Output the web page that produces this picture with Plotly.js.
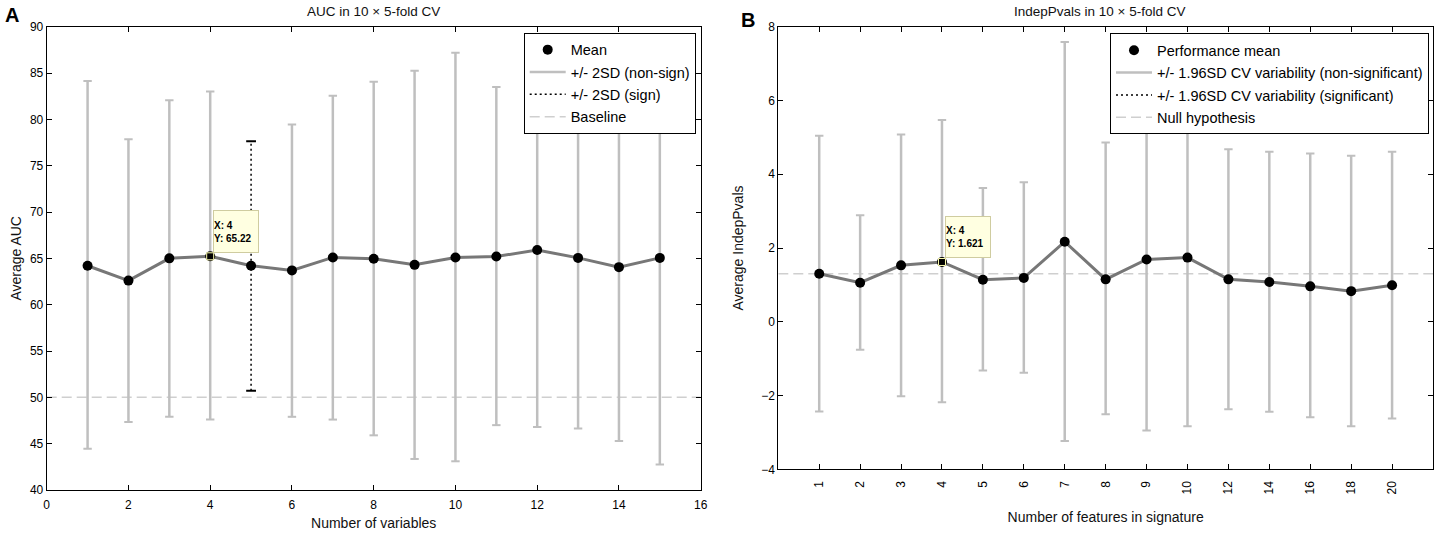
<!DOCTYPE html>
<html>
<head>
<meta charset="utf-8">
<script src="https://cdn.plot.ly/plotly-3.0.1.min.js"></script>
<style>html,body{margin:0;padding:0;background:#fff;}#chart{width:1439px;height:536px;}</style>
</head>
<body>
<div id="chart"></div>
<script>
// ---------- Panel A data: AUC in 10 x 5-fold CV ----------
var aucX      = [1, 2, 3, 4, 5, 6, 7, 8, 9, 10, 11, 12, 13, 14, 15];
var aucMean   = [64.2, 62.6, 65.0, 65.22, 64.2, 63.7, 65.1, 64.95, 64.3, 65.1, 65.2, 65.9, 65.05, 64.05, 65.05];
var aucUpper  = [84.15, 77.85, 82.05, 83.0, 77.65, 79.45, 82.55, 84.05, 85.25, 87.2, 83.5, 85.0, 83.4, 82.75, 87.3];
var aucLower  = [44.45, 47.35, 47.9, 47.6, 50.7, 47.9, 47.6, 45.9, 43.35, 43.1, 47.0, 46.8, 46.65, 45.3, 42.75];
var aucSign   = [false, false, false, false, true, false, false, false, false, false, false, false, false, false, false];
var aucBaseline = 50;
var aucTip = {x: 4, y: 65.22, label: "65.22"};

// ---------- Panel B data: IndepPvals in 10 x 5-fold CV ----------
var pvLabels  = ["1", "2", "3", "4", "5", "6", "7", "8", "9", "10", "12", "14", "16", "18", "20"];
var pvMean    = [1.30, 1.06, 1.53, 1.621, 1.14, 1.19, 2.17, 1.15, 1.69, 1.74, 1.15, 1.08, 0.96, 0.83, 0.99];
var pvUpper   = [5.04, 2.89, 5.08, 5.47, 3.63, 3.78, 7.585, 4.86, 6.33, 6.31, 4.68, 4.61, 4.56, 4.50, 4.61];
var pvLower   = [-2.43, -0.76, -2.02, -2.18, -1.32, -1.38, -3.23, -2.51, -2.95, -2.83, -2.37, -2.44, -2.59, -2.83, -2.62];
var pvSign    = [false, false, false, false, false, false, false, false, false, false, false, false, false, false, false];
var pvNull = 1.301;
var pvTipIndex = 3; // category "4"
var pvTipLabel = "1.621";

// ---------- helpers ----------
var FONT = "Liberation Sans, Arial, Helvetica, sans-serif";
var GRAY_BAR = "#bfbfbf";
var MEAN_LINE = "#777777";
var BASE_COL = "#cfcfcf";

function segments(xs, lo, hi, flags, want) {
  var x = [], y = [];
  for (var i = 0; i < xs.length; i++) {
    if (flags[i] === want) { x.push(xs[i], xs[i], null); y.push(lo[i], hi[i], null); }
  }
  if (x.length === 0) { x.push(null); y.push(null); }
  return {x: x, y: y};
}
function caps(xs, lo, hi, flags, want) {
  var x = [], y = [];
  for (var i = 0; i < xs.length; i++) {
    if (flags[i] === want) { x.push(xs[i], xs[i]); y.push(lo[i], hi[i]); }
  }
  return {x: x, y: y};
}

function panelTraces(xs, mean, lo, hi, flags, baseVal, xr, xa, ya, leg, names) {
  var t = [];
  t.push({type: "scatter", mode: "lines", x: [xr[0], xr[1]], y: [baseVal, baseVal], xaxis: xa, yaxis: ya,
    line: {color: BASE_COL, width: 1.5, dash: "10px,5px"}, name: names[3], legend: leg,
    legendgroup: leg + "d", legendrank: 4, hoverinfo: "skip"});
  var ns = segments(xs, lo, hi, flags, false);
  t.push({type: "scatter", mode: "lines", x: ns.x, y: ns.y, xaxis: xa, yaxis: ya,
    line: {color: GRAY_BAR, width: 2.5}, name: names[1], legend: leg, legendgroup: leg + "b", legendrank: 2,
    connectgaps: false, hoverinfo: "skip"});
  var nc = caps(xs, lo, hi, flags, false);
  t.push({type: "scatter", mode: "markers", x: nc.x, y: nc.y, xaxis: xa, yaxis: ya, showlegend: false,
    marker: {symbol: "line-ew", size: 6, line: {color: GRAY_BAR, width: 2}}, hoverinfo: "skip"});
  var ss = segments(xs, lo, hi, flags, true);
  t.push({type: "scatter", mode: "lines", x: ss.x, y: ss.y, xaxis: xa, yaxis: ya,
    line: {color: "#000", width: 1.5, dash: "2px,3px"}, name: names[2], legend: leg, legendgroup: leg + "c", legendrank: 3,
    connectgaps: false, hoverinfo: "skip"});
  var sc = caps(xs, lo, hi, flags, true);
  t.push({type: "scatter", mode: "markers", x: sc.x, y: sc.y, xaxis: xa, yaxis: ya, showlegend: false,
    marker: {symbol: "line-ew", size: 7, line: {color: "#000", width: 2}}, hoverinfo: "skip"});
  t.push({type: "scatter", mode: "lines", x: xs, y: mean, xaxis: xa, yaxis: ya, showlegend: false,
    line: {color: MEAN_LINE, width: 3}, hoverinfo: "skip"});
  t.push({type: "scatter", mode: "markers", x: xs, y: mean, xaxis: xa, yaxis: ya, name: names[0], legend: leg,
    legendgroup: leg + "a", legendrank: 1, marker: {color: "#000", size: 10, symbol: "circle"}});
  return t;
}

var pvX = pvLabels.map(function (l, i) { return i + 1; });

var traces = []
  .concat(panelTraces(aucX, aucMean, aucLower, aucUpper, aucSign, aucBaseline, [0, 16], "x", "y", "legend",
    ["Mean", "+/- 2SD (non-sign)", "+/- 2SD (sign)", "Baseline"]))
  .concat(panelTraces(pvX, pvMean, pvLower, pvUpper, pvSign, pvNull, [0, 16], "x2", "y2", "legend2",
    ["Performance mean", "+/- 1.96SD CV variability (non-significant)", "+/- 1.96SD CV variability (significant)", "Null hypothesis"]));

traces.push({type: "scatter", mode: "markers", x: [aucTip.x], y: [aucTip.y], xaxis: "x", yaxis: "y", showlegend: false,
  marker: {symbol: "square", size: 7, color: "#000", line: {color: "#ffffb0", width: 1}}});
traces.push({type: "scatter", mode: "markers", x: [pvX[pvTipIndex]], y: [pvMean[pvTipIndex]], xaxis: "x2", yaxis: "y2", showlegend: false,
  marker: {symbol: "square", size: 7, color: "#000", line: {color: "#ffffb0", width: 1}}});

var W = 1439, H = 536;
function px(v) { return v / W; }
function py(v) { return 1 - v / H; }

var axisCommon = {
  showline: true, linecolor: "#000", linewidth: 1, mirror: "ticks", ticks: "inside", ticklen: 5,
  tickcolor: "#000", tickwidth: 1, showgrid: false, zeroline: false,
  tickfont: {family: FONT, size: 12, color: "#000"}, automargin: false
};
function ax(extra) { var o = {}; for (var k in axisCommon) o[k] = axisCommon[k]; for (var k2 in extra) o[k2] = extra[k2]; return o; }

var legendCommon = {
  bgcolor: "#fff", bordercolor: "#000", borderwidth: 1, font: {family: FONT, size: 14.5, color: "#000"},
  xanchor: "right", yanchor: "top", traceorder: "grouped", tracegroupgap: 0.5, itemwidth: 36, itemclick: false
};
function lg(extra) { var o = {}; for (var k in legendCommon) o[k] = legendCommon[k]; for (var k2 in extra) o[k2] = extra[k2]; return o; }

var TF = {family: FONT, size: 14, color: "#111"};

var layout = {
  width: W, height: H, margin: {l: 0, r: 0, t: 0, b: 0},
  paper_bgcolor: "#fff", plot_bgcolor: "#fff", showlegend: true,
  font: {family: FONT, size: 12, color: "#000"},
  xaxis: ax({domain: [px(46.7), px(700.7)], range: [0, 16], dtick: 2, tick0: 0, anchor: "y", ticklabelstandoff: 4,
    title: {text: "Number of variables", font: TF, standoff: 6}}),
  yaxis: ax({domain: [py(490), py(26.7)], range: [40, 90], dtick: 5, tick0: 40, anchor: "x",
    title: {text: "Average AUC", font: TF, standoff: 5}}),
  xaxis2: ax({domain: [px(778.3), px(1433)], range: [0, 16], anchor: "y2", tickmode: "array",
    tickvals: pvX, ticktext: pvLabels, tickangle: -90, ticklabelstandoff: 6,
    title: {text: "Number of features in signature", font: TF, standoff: 18}}),
  yaxis2: ax({domain: [py(469.3), py(26.7)], range: [-4, 8], dtick: 2, tick0: -4, anchor: "x2",
    title: {text: "Average IndepPvals", font: TF, standoff: 14}}),
  legend: lg({x: px(695.7), y: py(32.7)}),
  legend2: lg({x: px(1429), y: py(33.3)}),
  annotations: [
    {text: "<b>A</b>", xref: "paper", yref: "paper", x: px(3), y: py(15.5), xanchor: "left", yanchor: "middle",
      showarrow: false, font: {family: FONT, size: 20, color: "#000"}},
    {text: "<b>B</b>", xref: "paper", yref: "paper", x: px(739), y: py(20.3), xanchor: "left", yanchor: "middle",
      showarrow: false, font: {family: FONT, size: 20, color: "#000"}},
    {text: "AUC in 10 \u00d7 5-fold CV", xref: "paper", yref: "paper", x: px(373), y: py(11), xanchor: "center", yanchor: "middle",
      showarrow: false, font: {family: FONT, size: 13.5, color: "#111"}},
    {text: "IndepPvals in 10 \u00d7 5-fold CV", xref: "paper", yref: "paper", x: px(1099), y: py(11.5), xanchor: "center", yanchor: "middle",
      showarrow: false, font: {family: FONT, size: 13.5, color: "#111"}},
    {text: "<b>X: " + aucTip.x + "</b><br><b>Y: " + aucTip.label + "</b>", xref: "x", yref: "y", x: aucTip.x, y: aucTip.y,
      xanchor: "left", yanchor: "bottom", xshift: 2.5, yshift: 3, showarrow: false, align: "left", width: 44, height: 41,
      bgcolor: "#ffffe1", bordercolor: "#cfcca0", borderwidth: 1, borderpad: 0,
      font: {family: FONT, size: 10, color: "#000"}},
    {text: "<b>X: " + pvLabels[pvTipIndex] + "</b><br><b>Y: " + pvTipLabel + "</b>", xref: "x2", yref: "y2", x: pvX[pvTipIndex], y: pvMean[pvTipIndex],
      xanchor: "left", yanchor: "bottom", xshift: 3.5, yshift: 3.5, showarrow: false, align: "left", width: 44, height: 40,
      bgcolor: "#ffffe1", bordercolor: "#cfcca0", borderwidth: 1, borderpad: 0,
      font: {family: FONT, size: 10, color: "#000"}}
  ]
};

Plotly.newPlot("chart", traces, layout, {staticPlot: true, displayModeBar: false});
</script>
</body>
</html>
